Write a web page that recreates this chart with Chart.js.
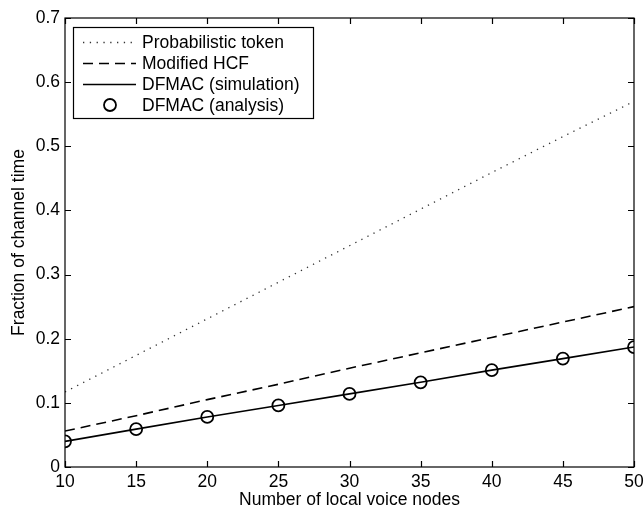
<!DOCTYPE html>
<html>
<head>
<meta charset="utf-8">
<script src="https://cdn.jsdelivr.net/npm/chart.js@4/dist/chart.umd.min.js"></script>
<style>
  html, body { margin: 0; padding: 0; background: #fff; }
  #wrap { width: 644px; height: 512px; }
</style>
</head>
<body>
<div id="wrap"><canvas id="c" width="644" height="512"></canvas></div>
<script>
const nodes = [10, 15, 20, 25, 30, 35, 40, 45, 50];
const probToken = [0.117, 0.174, 0.231, 0.288, 0.345, 0.402, 0.459, 0.515, 0.570];
const modifiedHCF = [0.056, 0.080, 0.105, 0.129, 0.154, 0.178, 0.202, 0.226, 0.250];
const dfmacSim = [0.040, 0.059, 0.078, 0.096, 0.114, 0.132, 0.151, 0.169, 0.187];
const dfmacAna = [0.040, 0.059, 0.078, 0.096, 0.114, 0.132, 0.151, 0.169, 0.187];
const xTicks = [10, 15, 20, 25, 30, 35, 40, 45, 50];
const yTicks = [0, 0.1, 0.2, 0.3, 0.4, 0.5, 0.6, 0.7];
const labels = ['Probabilistic token', 'Modified HCF', 'DFMAC (simulation)', 'DFMAC (analysis)'];

const FONT = '"Liberation Sans", Arial, Helvetica, sans-serif';
const FS = 17.5;

const pts = arr => arr.map((v, i) => ({ x: nodes[i], y: v }));

const framePlugin = {
  id: 'frame',
  afterDatasetsDraw(chart) {
    const { ctx, chartArea: a, scales } = chart;
    ctx.save();
    ctx.strokeStyle = '#000';
    ctx.lineWidth = 1.2;
    ctx.strokeRect(a.left, a.top, a.right - a.left, a.bottom - a.top);
    const L = 6;
    ctx.beginPath();
    xTicks.forEach(t => {
      const px = Math.round(scales.x.getPixelForValue(t)) + 0.5;
      ctx.moveTo(px, a.bottom); ctx.lineTo(px, a.bottom - L);
      ctx.moveTo(px, a.top); ctx.lineTo(px, a.top + L);
    });
    yTicks.forEach(t => {
      const py = Math.round(scales.y.getPixelForValue(t)) + 0.5;
      ctx.moveTo(a.left, py); ctx.lineTo(a.left + L, py);
      ctx.moveTo(a.right, py); ctx.lineTo(a.right - L, py);
    });
    ctx.stroke();

    // legend
    const bx = 73, by = 27, bw = 240, bh = 91;
    ctx.fillStyle = '#fff';
    ctx.fillRect(bx, by, bw, bh);
    ctx.lineWidth = 1.2;
    ctx.strokeRect(bx + 0.5, by + 0.5, bw, bh);
    const rows = [42, 63, 84, 105];
    ctx.font = FS + 'px ' + FONT;
    ctx.textBaseline = 'middle';
    ctx.textAlign = 'left';
    chart.data.datasets.forEach((ds, i) => {
      const y = rows[i];
      ctx.strokeStyle = '#000';
      if (ds.showLine === false) {
        ctx.setLineDash([]);
        ctx.lineWidth = ds.pointBorderWidth;
        ctx.beginPath();
        ctx.arc(110, y, ds.pointRadius, 0, Math.PI * 2);
        ctx.stroke();
      } else {
        ctx.setLineDash(ds.borderDash || []);
        ctx.lineWidth = ds.borderWidth;
        ctx.strokeStyle = ds.borderColor;
        ctx.beginPath();
        ctx.moveTo(83, y + 0.5); ctx.lineTo(136, y + 0.5);
        ctx.stroke();
        ctx.setLineDash([]);
      }
      ctx.fillStyle = '#000';
      ctx.fillText(ds.label, 142, y + 1);
    });
    ctx.restore();
  }
};

new Chart(document.getElementById('c'), {
  type: 'scatter',
  data: {
    datasets: [
      { label: labels[0], data: pts(probToken), showLine: true, borderColor: '#333', borderWidth: 1.3,
        borderDash: [1.3, 5.5], pointRadius: 0, fill: false, tension: 0 },
      { label: labels[1], data: pts(modifiedHCF), showLine: true, borderColor: '#000', borderWidth: 1.6,
        borderDash: [10, 6], pointRadius: 0, fill: false, tension: 0 },
      { label: labels[2], data: pts(dfmacSim), showLine: true, borderColor: '#000', borderWidth: 1.6,
        pointRadius: 0, fill: false, tension: 0 },
      { label: labels[3], data: pts(dfmacAna), showLine: false, pointStyle: 'circle', pointRadius: 6,
        pointBorderWidth: 1.8, pointBorderColor: '#000', pointBackgroundColor: 'rgba(0,0,0,0)' }
    ]
  },
  options: {
    responsive: false,
    animation: false,
    events: [],
    layout: { padding: { left: 0, top: 18, right: 0, bottom: 0 } },
    plugins: { legend: { display: false }, tooltip: { enabled: false } },
    scales: {
      x: {
        type: 'linear', min: 10, max: 50,
        afterBuildTicks: s => { s.ticks = xTicks.map(v => ({ value: v })); },
        afterFit: s => { s.height = 45; s.paddingRight = 10; },
        grid: { display: false, drawTicks: false },
        border: { display: false },
        ticks: { color: '#000', padding: 5, maxRotation: 0, autoSkip: false,
          font: { family: FONT, size: FS }, callback: v => String(v) },
        title: { display: true, text: 'Number of local voice nodes', color: '#000',
          font: { family: FONT, size: FS }, padding: { top: 0, bottom: 1 } }
      },
      y: {
        type: 'linear', min: 0, max: 0.7,
        afterBuildTicks: s => { s.ticks = yTicks.map(v => ({ value: v })); },
        afterFit: s => { s.width = 65; },
        grid: { display: false, drawTicks: false },
        border: { display: false },
        ticks: { color: '#000', padding: 5, autoSkip: false,
          font: { family: FONT, size: FS }, callback: v => (v === 0 ? '0' : v.toFixed(1)) },
        title: { display: true, text: 'Fraction of channel time', color: '#000',
          font: { family: FONT, size: FS }, padding: { top: 9, bottom: 0 } }
      }
    }
  },
  plugins: [framePlugin]
});
</script>
</body>
</html>
